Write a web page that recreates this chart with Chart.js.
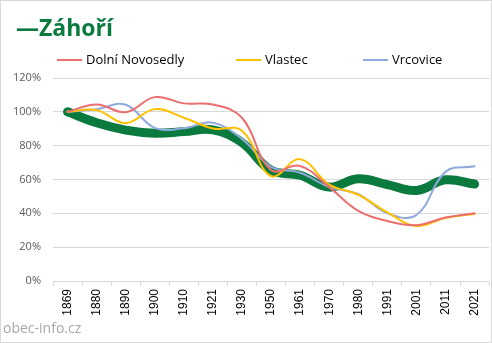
<!DOCTYPE html>
<html>
<head>
<meta charset="utf-8">
<script src="https://cdn.jsdelivr.net/npm/chart.js@4"></script>
<style>
  html, body { margin: 0; padding: 0; background: #fff; }
  #wrap { width: 492px; height: 343px; position: relative; }
</style>
</head>
<body>
<div id="wrap"><canvas id="chart" width="492" height="343"></canvas></div>
<script>
const years = ["1869", "1880", "1890", "1900", "1910", "1921", "1930", "1950", "1961", "1970", "1980", "1991", "2001", "2011", "2021"];

const zahori   = [100, 93.5, 89.2, 87.4, 88.3, 89.3, 81.8, 65.5, 62.5, 55.5, 60.5, 57, 53.5, 59.8, 57.3];
const dolni    = [100, 104.4, 99.8, 108.7, 105, 104.3, 96.5, 65.6, 68, 55.5, 41.5, 35.5, 33, 37.5, 40];
const vlastec  = [100, 101, 93.3, 101.6, 96.5, 90.2, 88.8, 62, 72, 57, 51, 40.5, 32.5, 37.3, 39.6];
const vrcovice = [100, 101.6, 104.2, 90.5, 90.3, 93.6, 84, 67.5, 64, 55.5, 51.3, 40, 39, 64.5, 67.8];

const yTicks = [0, 20, 40, 60, 80, 100, 120];

const GREEN = "#0b7a3e";

// nadpis + legenda ve stylu Excelu
const headerPlugin = {
  id: "header",
  afterDraw(chart) {
    const { ctx } = chart;
    const ds = chart.data.datasets;
    ctx.save();

    // ramecek
    ctx.strokeStyle = "#d9d9d9";
    ctx.lineWidth = 1;
    ctx.strokeRect(0.5, 0.5, 491, 342);

    // titulek
    ctx.font = "bold 23px 'Open Sans', sans-serif";
    ctx.fillStyle = GREEN;
    ctx.textBaseline = "alphabetic";
    ctx.textAlign = "left";
    ctx.fillText("\u2014" + ds[0].label, 16, 36);

    // legenda
    const xs = [57, 236, 363];
    ctx.font = "13px 'Open Sans', sans-serif";
    ctx.textBaseline = "middle";
    for (let i = 1; i < ds.length; i++) {
      const x = xs[i - 1];
      ctx.strokeStyle = ds[i].borderColor;
      ctx.lineWidth = 2;
      ctx.beginPath();
      ctx.moveTo(x, 60);
      ctx.lineTo(x + 25, 60);
      ctx.stroke();
      ctx.fillStyle = "#000";
      ctx.fillText(ds[i].label, x + 29, 60);
    }

    // vodoznak
    ctx.font = "14px 'Open Sans', sans-serif";
    ctx.fillStyle = "#a6a6a6";
    ctx.textBaseline = "alphabetic";
    ctx.fillText("obec-info.cz", 3, 333);

    ctx.restore();
  }
};

const ctx = document.getElementById("chart").getContext("2d");

new Chart(ctx, {
  type: "line",
  data: {
    labels: years,
    datasets: [
      { label: "Záhoří", data: zahori, borderColor: GREEN, borderWidth: 9, order: 10 },
      { label: "Dolní Novosedly", data: dolni, borderColor: "#ec6e6e", borderWidth: 2, order: 1 },
      { label: "Vlastec", data: vlastec, borderColor: "#ffc000", borderWidth: 2, order: 1 },
      { label: "Vrcovice", data: vrcovice, borderColor: "#8faadc", borderWidth: 2, order: 1 }
    ]
  },
  options: {
    responsive: false,
    animation: false,
    layout: { padding: { top: 78, left: 0, right: 1, bottom: 0 } },
    elements: {
      point: { radius: 0 },
      line: { tension: 0.4, fill: false, borderCapStyle: "round" }
    },
    scales: {
      x: {
        offset: true,
        grid: { offset: true, drawOnChartArea: false, color: "#d9d9d9", tickLength: 5 },
        border: { color: "#d9d9d9" },
        ticks: {
          minRotation: 90, maxRotation: 90, autoSkip: false,
          color: "#000", font: { size: 12, family: "'Liberation Sans', sans-serif" }, padding: 3
        },
        afterFit(scale) { scale.height = 62; }
      },
      y: {
        min: 0, max: 120,
        afterBuildTicks(scale) { scale.ticks = yTicks.map(v => ({ value: v })); },
        grid: { color: "#d9d9d9", drawTicks: false },
        border: { display: false },
        ticks: {
          color: "#595959", padding: 12,
          font: { size: 11, family: "'Open Sans', sans-serif" },
          callback: v => v + "%"
        },
        afterFit(scale) { scale.width = 53; }
      }
    },
    plugins: {
      legend: { display: false },
      tooltip: { enabled: false }
    }
  },
  plugins: [headerPlugin]
});
</script>
</body>
</html>
